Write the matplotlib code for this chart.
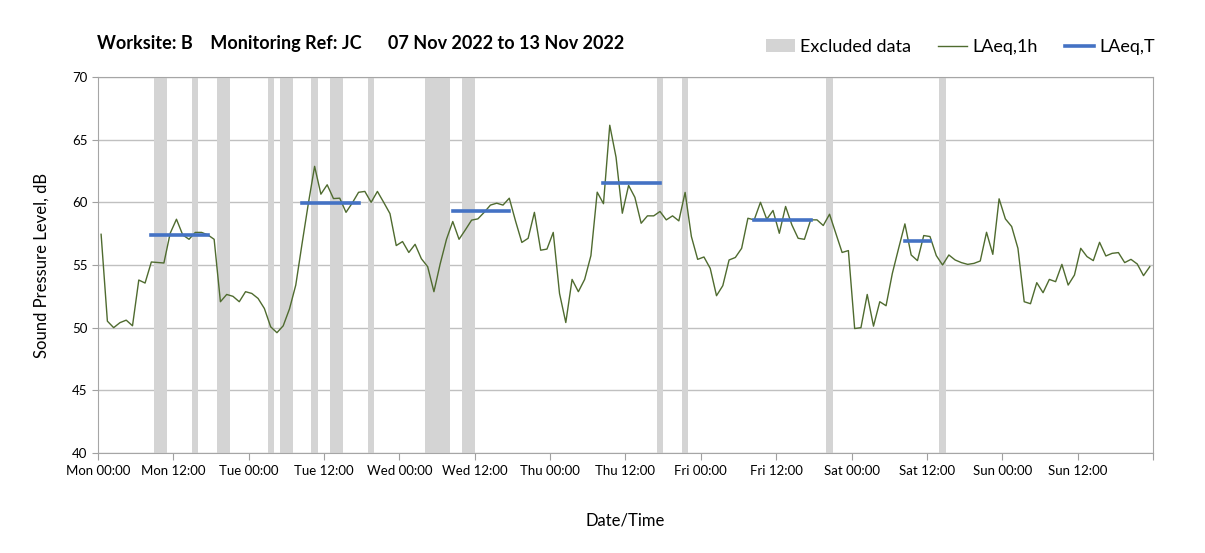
import matplotlib.pyplot as plt
import numpy as np
from matplotlib.patches import Patch
from matplotlib.lines import Line2D

plt.rcParams['font.family'] = ['Lato', 'DejaVu Sans']

# Hourly LAeq,1h values (dB), Mon 00:00 -> Sun 23:00, one per hour
laeq_1h = [
    57.45, 50.52, 50.0, 50.4, 50.6, 50.15, 53.8, 53.56, 55.24, 55.2, 55.16, 57.53,
    58.65, 57.4, 57.05, 57.6, 57.6, 57.4, 57.05, 52.07, 52.65, 52.5, 52.07, 52.87,
    52.73, 52.33, 51.53, 50.07, 49.6, 50.15, 51.5, 53.4, 56.7, 59.9, 62.87, 60.65,
    61.4, 60.3, 60.33, 59.2, 59.95, 60.8, 60.87, 60.0, 60.87, 60.0, 59.1, 56.55,
    56.87, 56.0, 56.65, 55.5, 54.87, 52.87, 55.1, 57.05, 58.47, 57.05, 57.8, 58.58,
    58.68, 59.2, 59.78, 59.93, 59.78, 60.33, 58.5, 56.8, 57.13, 59.2, 56.18, 56.27,
    57.6, 52.73, 50.41, 53.85, 52.87, 53.85, 55.75, 60.81, 59.89, 66.15, 63.6, 59.13,
    61.35, 60.4, 58.33, 58.92, 58.92, 59.27, 58.6, 58.92, 58.52, 60.79, 57.27, 55.45,
    55.64, 54.73, 52.55, 53.35, 55.4, 55.6, 56.33, 58.73, 58.6, 60.0, 58.65, 59.35,
    57.53, 59.67, 58.2, 57.13, 57.05, 58.6, 58.6, 58.15, 59.05, 57.53, 56.0, 56.15,
    49.93, 50.0, 52.65, 50.12, 52.07, 51.75, 54.33, 56.33, 58.28, 55.8, 55.35, 57.35,
    57.27, 55.75, 55.0, 55.8, 55.4, 55.19, 55.05, 55.13, 55.32, 57.61, 55.85, 60.28,
    58.68, 58.07, 56.33, 52.07, 51.91, 53.59, 52.79, 53.85, 53.67, 55.05, 53.4, 54.2,
    56.33, 55.67, 55.35, 56.81, 55.72, 55.93, 55.99, 55.19, 55.45, 55.08, 54.15, 54.87,
]

# LAeq,T daytime periods: first hour, last hour, level
t_first_hour = [8, 32, 56, 80, 104, 128]
t_last_hour = [17, 41, 65, 89, 113, 132]
t_level = [57.37, 59.96, 59.28, 61.56, 58.6, 56.95]

# Excluded data periods (hours from Mon 00:00)
excl_start = [9, 15, 19, 27, 29, 34, 37, 43, 52, 58, 89, 93, 116, 134]
excl_end = [11, 16, 21, 28, 31, 35, 39, 44, 56, 60, 90, 94, 117, 135]

days = ['Mon', 'Tue', 'Wed', 'Thu', 'Fri', 'Sat', 'Sun']
tick_labels = [d + ' ' + h for d in days for h in ['00:00', '12:00']] + ['']

green = '#4f6b2f'
blue = '#4472c4'
grey_band = '#d4d4d4'

fig = plt.figure(figsize=(12.05, 5.53), dpi=100)
ax = fig.add_axes([0.0813, 0.1808, 0.8755, 0.68])

hours = np.arange(len(laeq_1h)) + 0.5

for s, e in zip(excl_start, excl_end):
    ax.axvspan(s, e, color=grey_band, lw=0, zorder=1)

ax.plot(hours, laeq_1h, color=green, lw=1.0, zorder=3)

for a, b, v in zip(t_first_hour, t_last_hour, t_level):
    ax.plot([a + 0.5, b + 0.5], [v, v], color=blue, lw=2.6, zorder=4)

ax.set_xlim(0, 168)
ax.set_ylim(40, 70)
ax.set_xticks(np.arange(0, 169, 12))
ax.set_xticklabels(tick_labels, fontsize=9.5)
ax.set_xticks(np.arange(0, 169, 24), minor=True)
ax.set_yticks(np.arange(40, 71, 5))
ax.tick_params(axis='y', labelsize=9.5, length=4, color='#a0a0a0')
ax.tick_params(axis='x', which='major', length=5, color='#a0a0a0')
ax.tick_params(axis='x', which='minor', length=0)

ax.grid(axis='y', color='#c0c0c0', lw=1.0, zorder=0)
ax.grid(axis='x', which='minor', color='#dcdcdc', lw=1.0, zorder=0)
ax.set_axisbelow(True)
for sp in ax.spines.values():
    sp.set_color('#a6a6a6')

ax.set_ylabel('Sound Pressure Level, dB', fontsize=12, labelpad=16)
ax.set_xlabel('Date/Time', fontsize=12, labelpad=26)

fig.text(0.0805, 0.922, 'Worksite: B    Monitoring Ref: JC      07 Nov 2022 to 13 Nov 2022',
         fontsize=13, fontweight='bold', va='center')

handles = [
    Patch(facecolor=grey_band, edgecolor='none'),
    Line2D([], [], color=green, lw=1.0),
    Line2D([], [], color=blue, lw=2.6),
]
fig.legend(handles, ['Excluded data', 'LAeq,1h', 'LAeq,T'], ncol=3, frameon=False,
           loc='center right', bbox_to_anchor=(0.972, 0.915), fontsize=13,
           handlelength=1.6, handletextpad=0.3, columnspacing=1.5)

fig.savefig('out.png', dpi=100)
